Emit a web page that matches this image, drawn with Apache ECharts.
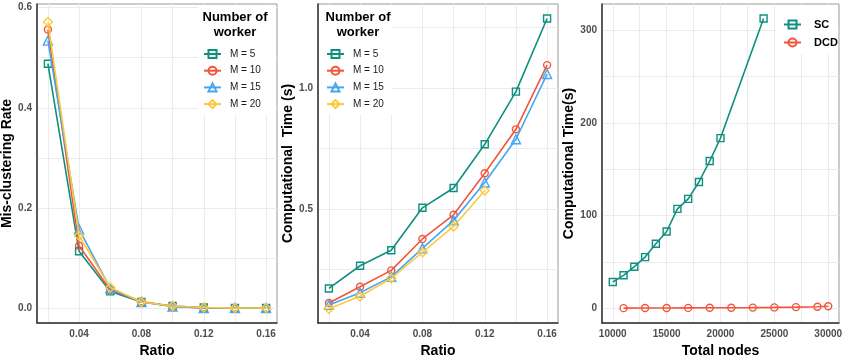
<!DOCTYPE html>
<html>
	<head>
		<meta charset="utf-8" />
		<title>Mis-clustering and computational time</title>
		<script src="https://cdn.jsdelivr.net/npm/echarts@6/dist/echarts.min.js"></script>
		<style>
			* {
				margin: 0;
				padding: 0;
			}
			body {
				background: #fff;
			}
		</style>
	</head>
	<body>
		<div id="main" style="width: 844px; height: 356px"></div>
		<script>
			// ---- data ----
			var ratio = [0.02, 0.04, 0.06, 0.08, 0.1, 0.12, 0.14, 0.16];
			var workerNames = ['M = 5', 'M = 10', 'M = 15', 'M = 20'];

			// panel 1: mis-clustering rate
			var mis5 = [0.488, 0.114, 0.034, 0.013, 0.005, 0.002, 0.001, 0.001];
			var mis10 = [0.556, 0.125, 0.037, 0.014, 0.004, 0.001, 0.001, 0.0005];
			var mis15 = [0.534, 0.158, 0.04, 0.013, 0.004, 0.001, 0.001, 0.001];
			var mis20 = [0.571, 0.145, 0.042, 0.013, 0.005, 0.002, 0.001, 0.001];

			// panel 2: computational time (s)
			var time5 = [0.17, 0.264, 0.328, 0.504, 0.586, 0.767, 0.985, 1.288];
			var time10 = [0.11, 0.177, 0.245, 0.375, 0.475, 0.647, 0.829, 1.095];
			var time15 = [0.102, 0.152, 0.218, 0.336, 0.452, 0.609, 0.788, 1.058];
			var time20 = [0.086, 0.138, 0.212, 0.32, 0.427, 0.576];

			// panel 3: SC vs DCD
			var nodesSC = [10000, 11000, 12000, 13000, 14000, 15000, 16000, 17000, 18000, 19000, 20000, 24000];
			var timeSC = [28.6, 35.8, 45.1, 55.4, 69.8, 83.0, 107.4, 118.2, 136.4, 159.0, 183.7, 312.6];
			var nodesDCD = [11000, 13000, 15000, 17000, 19000, 21000, 23000, 25000, 27000, 29000, 30000];
			var timeDCD = [0.4, 0.5, 0.6, 0.7, 0.8, 0.9, 1.0, 1.2, 1.5, 1.9, 2.4];

			// grid lines and tick labels
			var ratioGrid = [0.02, 0.04, 0.06, 0.08, 0.1, 0.12, 0.14, 0.16];
			var ratioTicks = [0.04, 0.08, 0.12, 0.16];
			var misGrid = [0, 0.1, 0.2, 0.3, 0.4, 0.5, 0.6];
			var misTicks = [0, 0.2, 0.4, 0.6];
			var timeGrid = [0.25, 0.5, 0.75, 1.0, 1.25];
			var timeTicks = [0.5, 1.0];
			var nodesGrid = [10000, 12500, 15000, 17500, 20000, 22500, 25000, 27500, 30000];
			var nodesTicks = [10000, 15000, 20000, 25000, 30000];
			var secGrid = [0, 50, 100, 150, 200, 250, 300];
			var secTicks = [0, 100, 200, 300];

			var colors = ['#0f8f7f', '#f4553a', '#45a6f1', '#fcc93b'];
			var symbols = ['rect', 'circle', 'triangle', 'diamond'];

			function pairs(xs, ys) {
				return ys.map(function (y, i) {
					return [xs[i], y];
				});
			}

			function xAxisOf(gi, min, max, grid, ticks, name, fmt) {
				return {
					type: 'value',
					gridIndex: gi,
					min: min,
					max: max,
					name: name,
					nameLocation: 'middle',
					nameGap: 14,
					nameTextStyle: {fontSize: 14, fontWeight: 'bold', color: '#000', fontFamily: 'Liberation Sans'},
					axisLine: {show: true, onZero: false, lineStyle: {color: '#333', width: 1.5}},
					axisTick: {show: false, customValues: grid},
					axisLabel: {customValues: ticks, margin: 6, fontSize: 10, fontWeight: 'bold', color: '#4d4d4d', fontFamily: 'Liberation Sans', formatter: fmt},
					splitLine: {show: true, lineStyle: {color: '#ebebeb', width: 1}},
				};
			}

			function yAxisOf(gi, min, max, grid, ticks, name, gap, fmt) {
				return {
					type: 'value',
					gridIndex: gi,
					min: min,
					max: max,
					name: name,
					nameLocation: 'middle',
					nameGap: gap,
					nameTextStyle: {fontSize: 14, fontWeight: 'bold', color: '#000', fontFamily: 'Liberation Sans'},
					axisLine: {show: true, onZero: false, lineStyle: {color: '#333', width: 1.5}},
					axisTick: {show: false, customValues: grid},
					axisLabel: {customValues: ticks, margin: 5, fontSize: 10, fontWeight: 'bold', color: '#4d4d4d', fontFamily: 'Liberation Sans', formatter: fmt},
					splitLine: {show: true, lineStyle: {color: '#ebebeb', width: 1}},
				};
			}

			function lineSeries(name, idx, gi, data, color, symbol) {
				return {
					name: name,
					type: 'line',
					xAxisIndex: gi,
					yAxisIndex: gi,
					data: data,
					symbol: symbol,
					symbolSize: symbol === 'triangle' || symbol === 'diamond' ? 9 : 7,
					lineStyle: {color: color, width: 1.6},
					itemStyle: {color: 'rgba(255,255,255,0)', borderColor: color, borderWidth: 1.4},
					z: 2 + idx,
				};
			}

			var fmt2 = function (v) {
				return v.toFixed(2);
			};
			var fmt1 = function (v) {
				return v.toFixed(1);
			};
			var fmt0 = function (v) {
				return String(Math.round(v));
			};

			var misSets = [mis5, mis10, mis15, mis20];
			var timeSets = [time5, time10, time15, time20];
			var series = [];
			misSets.forEach(function (d, i) {
				series.push(lineSeries(workerNames[i], i, 0, pairs(ratio, d), colors[i], symbols[i]));
			});
			timeSets.forEach(function (d, i) {
				series.push(lineSeries(workerNames[i], i, 1, pairs(ratio, d), colors[i], symbols[i]));
			});
			series.push(lineSeries('SC', 0, 2, pairs(nodesSC, timeSC), colors[0], 'rect'));
			series.push(lineSeries('DCD', 1, 2, pairs(nodesDCD, timeDCD), colors[1], 'circle'));

			var legendText = {fontSize: 10, color: '#1a1a1a', fontFamily: 'Liberation Sans', padding: [0, 0, 0, 4]};
			var titleStyle = {text: 'Number of\nworker', fontSize: 13, fontWeight: 'bold', fontFamily: 'Liberation Sans', fill: '#000', align: 'center', lineHeight: 15};
			var gridBase = {top: 4, height: 319, show: true, borderColor: '#999', borderWidth: 1, outerBoundsMode: 'none'};

			var myChart = echarts.init(document.getElementById('main'));
			var option = {
				animation: false,
				grid: [
					Object.assign({left: 37, width: 240}, gridBase),
					Object.assign({left: 318, width: 240}, gridBase),
					Object.assign({left: 602, width: 237}, gridBase),
				],
				xAxis: [
					xAxisOf(0, 0.013, 0.167, ratioGrid, ratioTicks, 'Ratio', fmt2),
					xAxisOf(1, 0.013, 0.167, ratioGrid, ratioTicks, 'Ratio', fmt2),
					xAxisOf(2, 9000, 31000, nodesGrid, nodesTicks, 'Total nodes', fmt0),
				],
				yAxis: [
					yAxisOf(0, -0.029, 0.607, misGrid, misTicks, 'Mis-clustering Rate', 20, fmt1),
					yAxisOf(1, 0.027, 1.348, timeGrid, timeTicks, 'Computational  Time (s)', 21, fmt1),
					yAxisOf(2, -15.6, 328.2, secGrid, secTicks, 'Computational Time(s)', 23, fmt0),
				],
				graphic: [
					{type: 'rect', shape: {x: 198, y: 5, width: 78, height: 110}, style: {fill: '#fff'}, z: 10},
					{type: 'rect', shape: {x: 319, y: 5, width: 73, height: 109}, style: {fill: '#fff'}, z: 10},
					{type: 'rect', shape: {x: 776, y: 5, width: 62, height: 49}, style: {fill: '#fff'}, z: 10},
					{type: 'text', x: 235, y: 10, z: 11, style: titleStyle},
					{type: 'text', x: 358, y: 10, z: 11, style: titleStyle},
				],
				legend: [
					{
						data: workerNames,
						orient: 'vertical',
						left: 203,
						top: 49,
						itemWidth: 17,
						itemHeight: 10,
						itemGap: 6.7,
						padding: 0,
						z: 20,
						textStyle: legendText,
					},
					{
						data: workerNames,
						orient: 'vertical',
						left: 326,
						top: 49,
						itemWidth: 17,
						itemHeight: 10,
						itemGap: 6.7,
						padding: 0,
						z: 20,
						textStyle: legendText,
					},
					{
						data: ['SC', 'DCD'],
						orient: 'vertical',
						left: 783,
						top: 19,
						itemWidth: 17,
						itemHeight: 10,
						itemGap: 7,
						padding: 0,
						z: 20,
						textStyle: {fontSize: 11, fontWeight: 'bold', color: '#000', fontFamily: 'Liberation Sans', padding: [0, 0, 0, 8]},
					},
				],
				series: series,
			};
			option && myChart.setOption(option);
		</script>
	</body>
</html>
